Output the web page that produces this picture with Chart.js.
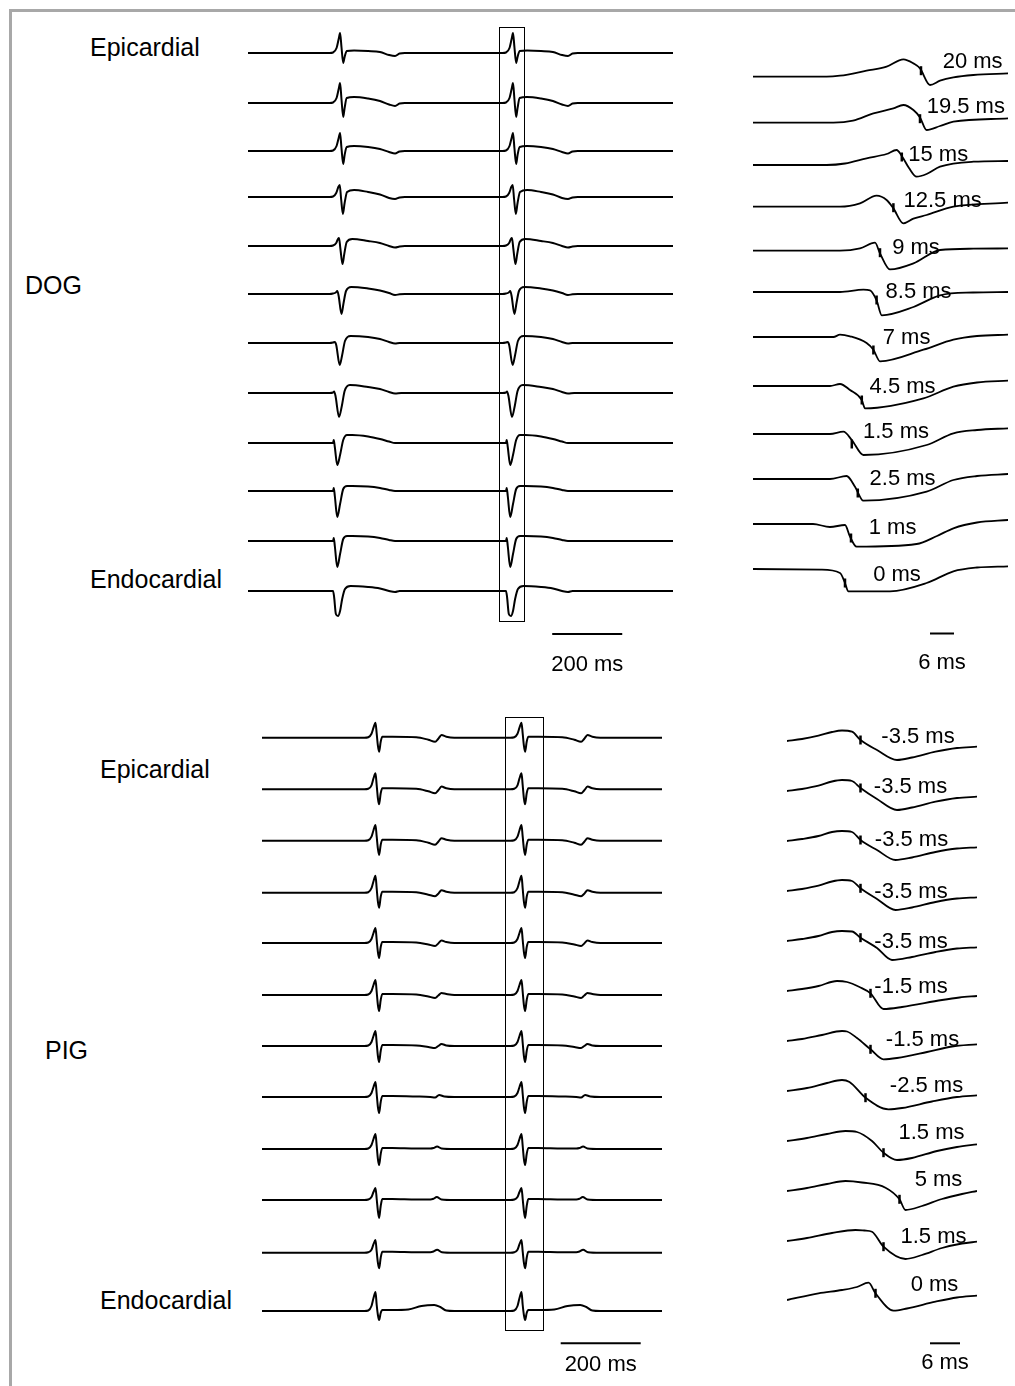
<!DOCTYPE html>
<html>
<head>
<meta charset="utf-8">
<script src="https://cdn.jsdelivr.net/npm/chart.js@4.4.0/dist/chart.umd.min.js"></script>
<style>
body { margin: 0; background: #fff; width: 1015px; height: 1386px; position: relative; overflow: hidden;
       font-family: "Liberation Sans", Arial, sans-serif; }
.frame { position: absolute; left: 9px; top: 9px; width: 1100px; height: 1500px;
         border-left: 3px solid #a8a8a8; border-top: 3px solid #a8a8a8; }
canvas { position: absolute; }
.lbl { position: absolute; font-size: 25px; color: #000; line-height: 1; transform: translateY(-50%); white-space: nowrap; }
</style>
</head>
<body>
<div class="frame"></div>
<div class="lbl" style="left:90px;top:47px">Epicardial</div>
<div class="lbl" style="left:25px;top:285px">DOG</div>
<div class="lbl" style="left:90px;top:579px">Endocardial</div>
<div class="lbl" style="left:100px;top:769px">Epicardial</div>
<div class="lbl" style="left:45px;top:1050px">PIG</div>
<div class="lbl" style="left:100px;top:1300px">Endocardial</div>
<canvas id="dogLeft"></canvas>
<canvas id="dogRight"></canvas>
<canvas id="pigLeft"></canvas>
<canvas id="pigRight"></canvas>
<script>
// ---- data: amplitudes in a.u., times in ms ----

// dog, full strips: one beat per electrode (time from beat onset), repeated at each onset
const dogLeftOnsets = [243, 737];
const dogLeftBeats = [
    [[-10,0],[0,0.5],[10,5],[16,14],[20,20],[24,6],[29,-10],[33,-4],[39,2],[60,2.5],[100,2],[134,1],[160,-2],[177,-3],[190,-0.5],[205,0]],
    [[-10,0],[0,0.5],[10,5],[16,14],[20,20],[24,4],[29,-14],[33,-5],[39,5],[60,6],[100,4.5],[134,2],[160,-1.5],[177,-3],[190,-0.5],[205,0]],
    [[-10,0],[0,0.5],[10,5],[16,13],[20,18],[24,3],[29,-13],[33,-4],[39,4],[60,5],[100,4],[134,2],[160,-1],[177,-2.5],[190,-0.5],[205,0]],
    [[-10,0],[0,0.5],[9,4],[15,10],[19,12],[23,-2],[28,-17],[33,-6],[40,5],[60,7],[100,5],[134,2.5],[160,-1],[177,-2],[190,-0.5],[205,0]],
    [[-10,0],[0,0.5],[9,3],[14,7],[17,8],[21,-3],[27,-18],[32,-8],[39,4],[55,7],[100,5],[134,3],[160,0],[177,-1.5],[190,-0.5],[205,0]],
    [[-10,0],[0,0.5],[8,1.5],[12,3],[16,-2],[24,-20],[30,-9],[37,3],[52,7],[100,5.5],[134,3.5],[160,1],[177,-1],[190,-0.3],[205,0]],
    [[-10,0],[0,0.5],[5,1],[9,-2],[19,-22],[26,-12],[34,2],[50,7],[100,6],[134,4],[160,1],[177,-0.5],[190,0],[205,0]],
    [[-10,0],[0,0.5],[3,1.5],[7,-3],[17,-24],[25,-13],[33,2],[48,8],[100,6],[134,4],[160,1],[177,-0.5],[195,0]],
    [[-10,0],[0,0],[2,3],[5,-4],[12,-22],[20,-12],[29,3],[40,8],[55,8],[100,6.5],[134,4],[160,1.5],[177,0],[205,0]],
    [[-10,0],[0,0],[2,3],[5,-5],[12,-26],[20,-13],[29,2],[40,5],[55,5],[100,4.5],[134,3],[160,1],[177,0],[205,0]],
    [[-10,0],[0,0],[2,3],[5,-5],[12,-26],[20,-13],[29,2],[40,5],[55,5],[100,4.5],[134,3],[160,1],[177,0],[205,0]],
    [[-10,0],[0,0],[3,-6],[8,-23],[14,-25],[20,-20],[26,-8],[34,2],[50,5],[100,4],[134,2.5],[160,0],[177,-1],[190,0],[205,0]]
];

// dog, zoomed beats (ms within the boxed window) with activation marks and times
const dogRightTraces = [
    [[0,0],[18.4,0],[21.75,1],[28.4,6],[33.4,10],[37.6,17.3],[40.1,13.3],[41.75,8.3],[44.25,-8.3],[46.75,-4],[50.1,-0.7],[55.1,1.7],[63.8,3.3]],
    [[0,0],[20.1,0],[25,2],[30.1,9.3],[35.1,14.3],[37.6,17.7],[40.1,12.7],[41.75,5.3],[43.4,-7.3],[46.75,-3.3],[50.1,1],[63.8,4.3]],
    [[0,0],[18.4,0],[23,1.5],[28.4,6.7],[33.4,11],[35.9,15],[37.2,9],[39,-3],[40.9,-11.7],[43.4,-9],[46.75,-1.7],[55.1,3.3],[63.8,4]],
    [[0,0],[21.75,0],[26.75,3.3],[30.9,11],[33.4,6.7],[35.1,-1.7],[37.6,-16.7],[40.1,-12],[43.4,-8.3],[50.1,0],[63.8,4]],
    [[0,0],[21.75,0],[26.75,2.3],[30.5,8],[31.75,-2.7],[34.25,-18.7],[40.1,-12.7],[46.75,0.7],[55.1,2],[63.8,2.3]],
    [[0,0],[21.75,0],[27.6,2.3],[29.25,1.7],[30.9,-8.3],[32.2,-23.3],[40.1,-15],[46.75,-3.3],[55,-0.5],[63.8,0]],
    [[0,0],[20.1,0],[21.75,2.3],[24.25,0.7],[28.4,-6],[30.1,-12.7],[31.75,-24.3],[42.6,-12.7],[50.1,-2.7],[56,1],[63.8,2.3]],
    [[0,0],[19.25,0],[21.75,2],[24.25,-4],[27.2,-14],[28,-22.3],[42.6,-12.3],[50.1,-0.7],[56,3.5],[63.8,5.3]],
    [[0,0],[19.25,0],[22.6,2.3],[24.7,-6],[27.6,-21],[43.4,-11],[50.1,0.7],[56,4],[63.8,5.7]],
    [[0,0],[19.25,0],[23.4,3],[25.5,-7.7],[27.6,-21.7],[43.4,-12.7],[50.1,-1],[56,3],[63.8,5]],
    [[0,0],[15,0],[19.25,-3],[23,-1],[24.25,-12.7],[25.9,-22.7],[40.9,-20],[46,-12],[50.1,-4.3],[56,1.5],[63.8,4]],
    [[0,0],[17,-0.7],[21.75,-4],[23,-14],[23.8,-22.3],[34.25,-22.3],[43.4,-14],[50.1,-2.3],[56,1.5],[63.8,2.7]]
];
const dogRightTicks = [[42,6],[41.75,4],[37.2,8],[35.1,-1],[31.75,-2],[30.9,-8],[30.1,-13],[27.2,-14],[24.7,-10],[26.2,-14],[24.5,-14],[23,-14]];
const dogRightTimes = ['20 ms','19.5 ms','15 ms','12.5 ms','9 ms','8.5 ms','7 ms','4.5 ms','1.5 ms','2.5 ms','1 ms','0 ms'];

// pig, full strips
const pigLeftOnsets = [265.75, 630.75];
const pigLeftBeats = [
    [[-10,0],[0,0.5],[8,4],[13,10],[18,15],[21,4],[24,-8],[27,-14],[31,-4],[35,1],[60,1],[120,0.5],[150,-2],[167,-4],[175,-1],[183,2.7],[195,1],[215,0]],
    [[-10,0],[0,0.5],[8,4],[13,11],[18,16],[21,4],[24,-9],[27,-15],[31,-4],[35,1],[60,1],[120,0.5],[150,-2],[167,-4],[175,-1],[183,2.7],[195,1],[215,0]],
    [[-10,0],[0,0.5],[8,4],[13,10.5],[18,15.7],[21,4],[24,-8],[27,-14.3],[31,-4],[35,1],[60,1],[120,0.5],[150,-2],[167,-4],[175,-1],[183,2.5],[195,1],[215,0]],
    [[-10,0],[0,0.5],[8,4.5],[13,11.5],[18,17],[21,4],[24,-9],[27,-15],[31,-4],[35,1],[60,1],[120,0.5],[150,-2],[167,-3.5],[175,-1],[183,2.5],[195,1],[215,0]],
    [[-10,0],[0,0.5],[8,4],[13,10],[18,15],[21,3],[24,-9],[27,-15],[31,-4],[35,1],[60,1],[120,0.5],[150,-1.5],[167,-3],[175,-0.5],[183,2.5],[195,1],[215,0]],
    [[-10,0],[0,0.5],[8,4],[13,10],[18,15],[21,3],[24,-10],[27,-16],[31,-5],[35,1],[60,1],[120,0.5],[150,-1.5],[167,-3],[175,-0.5],[183,2],[195,1],[215,0]],
    [[-10,0],[0,0.5],[8,4],[13,10],[18,15],[21,3],[24,-10],[27,-16],[31,-5],[35,1],[60,1],[120,0.5],[150,-1],[167,-2],[175,0],[183,2],[195,0.5],[215,0]],
    [[-10,0],[0,0.5],[8,4],[13,10],[18,15],[21,3],[24,-10],[27,-16],[31,-5],[35,1],[60,1],[120,0.5],[155,0],[167,-0.5],[177,2],[190,0.5],[215,0]],
    [[-10,0],[0,0.5],[8,4],[13,10],[18,15],[21,3],[24,-10],[27,-16],[31,-5],[35,1],[60,1],[120,0.5],[155,0.5],[163,1],[172,2.5],[183,0.5],[215,0]],
    [[-10,0],[0,0.5],[8,3],[13,8],[18,12],[21,1],[24,-11],[27,-18],[31,-6],[35,1],[60,1],[120,0.5],[155,0.5],[163,1.2],[171,3],[183,0.5],[215,0]],
    [[-10,0],[0,0.5],[8,3],[13,8.5],[18,12.7],[21,1],[24,-10],[27,-15.6],[31,-5],[35,1],[60,1],[120,0.5],[155,0.5],[163,1.2],[172,3],[184,0.5],[215,0]],
    [[-10,0],[0,0.5],[8,5],[13,13],[18,19],[21,6],[24,-4],[27,-9],[31,-2],[35,1],[60,1],[100,1.5],[133,5],[165,6],[180,4],[195,0.5],[215,0]]
];

// pig, zoomed beats
const pigRightTraces = [
    [[0,0],[3,2],[6.3,5.3],[9,9],[11,10.5],[13,9.3],[14.7,1],[18,-9],[22,-19],[25,-16.5],[29.7,-10.7],[34,-7],[38,-5.7]],
    [[0,0],[3,2],[6.3,5.3],[9,9.5],[11,11],[13,10],[14.7,3],[18,-8],[22,-19],[25,-16.5],[29.7,-10.7],[34,-7],[38,-5.7]],
    [[0,0],[3,2],[6.3,5],[9,9],[11,10],[13,9],[14.7,1],[18,-9],[21.7,-19],[25,-16.5],[29.7,-11],[34,-7.5],[38,-6.3]],
    [[0,0],[3,2],[6.3,5.3],[9,9.5],[11,11],[13,10],[14.7,2.7],[18,-8],[21.7,-19],[25,-16.5],[29.7,-11],[34,-7.5],[38,-6.3]],
    [[0,0],[3,2],[6.3,5],[9,9],[11,10],[13,9.5],[14.7,3.3],[18,-7],[21,-19],[25,-16],[29.7,-11],[34,-7.5],[38,-6.3]],
    [[0,0],[3,2],[6.3,5],[10,10],[12,9],[14.5,4],[16.7,-2.3],[19.3,-18],[23,-16],[31,-9],[34.5,-6.5],[38,-5]],
    [[0,0],[3,2],[7,6],[11,10],[12,9.5],[14,3],[16.7,-8.3],[19.3,-18.3],[22,-17],[28,-11],[33,-5.5],[38,-3.3]],
    [[0,0],[4,3],[8,8],[11,11],[12.5,9],[15.7,-6.7],[20.3,-18.3],[23,-17],[29,-10.5],[34,-6],[38,-4.3]],
    [[0,0],[4,3],[8,7],[11.7,10],[14,9],[17,0],[19.3,-11.7],[22,-19],[25,-17],[30,-10],[34,-6],[38,-3.3]],
    [[0,0],[4,3],[8,7],[11.7,10],[15,8.5],[19.7,3.3],[22.5,-8.3],[23.7,-19],[27,-15],[31,-8],[35,-3],[38,0]],
    [[0,0],[4,3],[9,8],[13.7,11],[15.5,10.5],[17,9.3],[19.3,-5.7],[23.7,-18],[27,-14],[31,-7],[35,-2.5],[38,-0.7]],
    [[0,-9],[6.3,-2.3],[11,1],[14,4],[16.3,8.3],[17.7,-2.3],[21.3,-19.7],[24,-17.5],[29.7,-10.7],[34,-6.5],[38,-4.7]]
];
const pigRightTicks = [[14.7,1],[14.7,3],[14.7,1],[14.7,2.7],[14.7,3.3],[16.7,-2.3],[16.7,-8.3],[15.7,-6.7],[19.3,-11.7],[22.5,-8.3],[19.3,-5.7],[17.7,-2.3]];
const pigRightTimes = ['-3.5 ms','-3.5 ms','-3.5 ms','-3.5 ms','-3.5 ms','-1.5 ms','-1.5 ms','-2.5 ms','1.5 ms','5 ms','1.5 ms','0 ms'];

// ---- layout (page pixels, row offsets in px from the canvas top) ----
const panels = [
    { id: 'dogLeft', left: 248, top: 20, width: 425, height: 670, xMax: 1214,
      rows: [33, 83, 131, 177, 226, 274, 323, 373, 423, 471, 521, 571],
      beats: dogLeftBeats, onsets: dogLeftOnsets, lineWidth: 2,
      box: { from: 717, to: 789, top: 7, bottom: 601 },
      bar: { from: 869, to: 1069, y: 614, textY: 645, text: '200 ms' } },
    { id: 'dogRight', left: 753, top: 30, width: 255, height: 660, xMax: 63.75,
      rows: [46.7, 92.7, 135, 176.7, 220.7, 262, 307, 356, 404, 449, 494, 539],
      traces: dogRightTraces, ticks: dogRightTicks, lineWidth: 1.8,
      labels: dogRightTimes,
      labelAt: [[54.9,15],[53.2,15.4],[46.3,10],[47.4,6],[40.75,2.4],[41.4,0],[38.4,-1.3],[37.4,-0.7],[35.75,2.3],[37.4,-0.3],[34.9,-4.3],[36,-6]],
      bar: { from: 44.25, to: 50.25, y: 603.5, textY: 632.7, text: '6 ms' } },
    { id: 'pigLeft', left: 262, top: 705, width: 400, height: 681, xMax: 1000,
      rows: [32.7, 84.3, 135.7, 187.7, 238, 290, 341, 392, 444, 495, 547.7, 606],
      beats: pigLeftBeats, onsets: pigLeftOnsets, lineWidth: 2,
      box: { from: 606.75, to: 701.75, top: 12.3, bottom: 625 },
      bar: { from: 746.75, to: 946.75, y: 638.3, textY: 660, text: '200 ms' } },
    { id: 'pigRight', left: 787, top: 705, width: 190, height: 681, xMax: 38,
      rows: [36, 86, 136, 186, 236, 286, 336, 386, 436, 486, 536, 586],
      traces: pigRightTraces, ticks: pigRightTicks, lineWidth: 1.8,
      labels: pigRightTimes,
      labelAt: [[26.2,4.3],[24.7,4.3],[24.9,1],[24.8,-0.7],[24.8,-0.7],[24.8,4.3],[27.1,1],[27.9,5],[28.9,7.7],[30.3,11],[29.3,4.3],[29.5,6]],
      bar: { from: 28.6, to: 34.6, y: 638.3, textY: 657.7, text: '6 ms' } }
];

const FONT = '22px "Liberation Sans", Arial, sans-serif';

// strip = flat baseline with the same beat placed at every onset
function buildStrip(beat, onsets, xMax) {
    const pts = [[0, 0]];
    onsets.forEach(o => beat.forEach(([t, v]) => pts.push([o + t, v])));
    pts.push([xMax, 0]);
    return pts;
}

const decorPlugin = {
    id: 'decor',
    afterDatasetsDraw(chart, args, opts) {
        const p = opts.panel;
        const { ctx, scales: { x, y } } = chart;
        ctx.save();
        ctx.strokeStyle = '#000';
        ctx.fillStyle = '#000';
        if (p.box) {
            const x0 = Math.round(x.getPixelForValue(p.box.from)) + 0.5;
            const x1 = Math.round(x.getPixelForValue(p.box.to)) + 0.5;
            const y0 = Math.round(y.getPixelForValue(-p.box.top)) + 0.5;
            const y1 = Math.round(y.getPixelForValue(-p.box.bottom)) + 0.5;
            ctx.lineWidth = 1;
            ctx.strokeRect(x0, y0, x1 - x0, y1 - y0);
        }
        if (p.bar) {
            const x0 = x.getPixelForValue(p.bar.from);
            const x1 = x.getPixelForValue(p.bar.to);
            const yb = y.getPixelForValue(-p.bar.y);
            ctx.lineWidth = 2;
            ctx.beginPath();
            ctx.moveTo(x0, yb);
            ctx.lineTo(x1, yb);
            ctx.stroke();
            ctx.font = FONT;
            ctx.textAlign = 'center';
            ctx.textBaseline = 'middle';
            ctx.fillText(p.bar.text, (x0 + x1) / 2, y.getPixelForValue(-p.bar.textY));
        }
        if (p.labels) {
            ctx.font = FONT;
            ctx.textAlign = 'center';
            ctx.textBaseline = 'middle';
            p.labels.forEach((txt, i) => {
                const [t, v] = p.labelAt[i];
                ctx.fillText(txt, x.getPixelForValue(t), y.getPixelForValue(-p.rows[i] + v));
            });
        }
        ctx.restore();
    }
};

function makePanel(p) {
    const canvas = document.getElementById(p.id);
    canvas.width = p.width;
    canvas.height = p.height;
    canvas.style.left = p.left + 'px';
    canvas.style.top = p.top + 'px';
    canvas.style.width = p.width + 'px';
    canvas.style.height = p.height + 'px';

    const traces = p.traces || p.beats.map(b => buildStrip(b, p.onsets, p.xMax));
    const datasets = traces.map((pts, i) => ({
        data: pts.map(([t, v]) => ({ x: t, y: -p.rows[i] + v })),
        borderColor: '#000',
        borderWidth: p.lineWidth,
        pointRadius: 0,
        cubicInterpolationMode: 'monotone',
        fill: false,
        clip: false
    }));
    if (p.ticks) {
        datasets.push({
            data: p.ticks.map(([t, v], i) => ({ x: t, y: -p.rows[i] + v })),
            showLine: false,
            pointStyle: 'line',
            pointRotation: 90,
            pointRadius: 4.5,
            pointBorderWidth: 2.5,
            pointBorderColor: '#000',
            clip: false
        });
    }

    return new Chart(canvas.getContext('2d'), {
        type: 'line',
        data: { datasets },
        options: {
            responsive: false,
            animation: false,
            devicePixelRatio: 1,
            layout: { padding: 0, autoPadding: false },
            scales: {
                x: { type: 'linear', display: false, min: 0, max: p.xMax },
                y: { type: 'linear', display: false, min: -p.height, max: 0 }
            },
            plugins: {
                legend: { display: false },
                tooltip: { enabled: false },
                decor: { panel: p }
            }
        },
        plugins: [decorPlugin]
    });
}

panels.forEach(makePanel);
</script>
</body>
</html>
